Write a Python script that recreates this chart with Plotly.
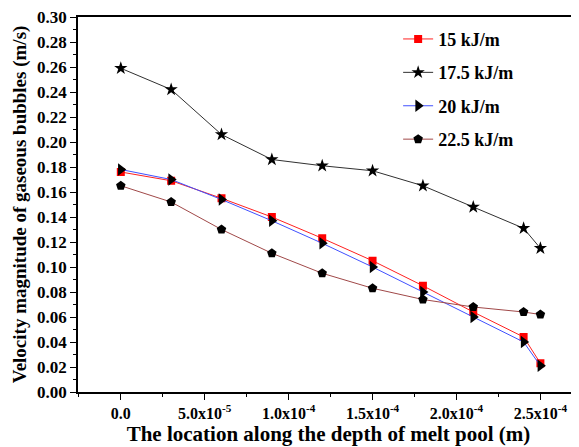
import plotly.graph_objects as go

x_pos = [0, 3e-5, 6e-5, 9e-5, 1.2e-4, 1.5e-4, 1.8e-4, 2.1e-4, 2.4e-4, 2.5e-4]
v_15 = [0.176, 0.169, 0.155, 0.140, 0.123, 0.105, 0.085, 0.064, 0.044, 0.023]
v_175 = [0.259, 0.242, 0.206, 0.186, 0.181, 0.177, 0.165, 0.148, 0.131, 0.115]
v_20 = [0.178, 0.170, 0.154, 0.137, 0.119, 0.100, 0.080, 0.060, 0.040, 0.021]
v_225 = [0.165, 0.152, 0.130, 0.111, 0.095, 0.083, 0.074, 0.068, 0.064, 0.062]

series_names = ["15 kJ/m", "17.5 kJ/m", "20 kJ/m", "22.5 kJ/m"]
x_tickvals = [0, 5e-5, 1e-4, 1.5e-4, 2e-4, 2.5e-4]
x_ticktext = ["0.0", "5.0x10<sup>-5</sup>", "1.0x10<sup>-4</sup>", "1.5x10<sup>-4</sup>",
              "2.0x10<sup>-4</sup>", "2.5x10<sup>-4</sup>"]

styles = [
    dict(line=dict(color="#ff2020", width=1), marker=dict(symbol="square", size=8, color="#ff0000")),
    dict(line=dict(color="#303030", width=1), marker=dict(symbol="star", size=10, color="black")),
    dict(line=dict(color="#4050ff", width=1), marker=dict(symbol="triangle-right", size=11, color="black")),
    dict(line=dict(color="#a04848", width=1), marker=dict(symbol="pentagon", size=10, color="black")),
]

fig = go.Figure()
for i, (name, vals) in enumerate(zip(series_names, [v_15, v_175, v_20, v_225])):
    fig.add_trace(go.Scatter(x=x_pos, y=vals, mode="lines+markers", name=name,
                             legendgroup=f"g{i}", **styles[i]))

font_family = "Times New Roman, Liberation Serif, serif"
# page body has an 8px margin, so margins are reduced accordingly
fig.update_layout(
    width=579, height=447,
    margin=dict(l=70, r=8, t=9, b=63),
    plot_bgcolor="white", paper_bgcolor="white",
    font=dict(family=font_family, color="black"),
    showlegend=True,
    legend=dict(x=0.639, y=0.99, xanchor="left", yanchor="top",
                font=dict(family=font_family, size=18, color="black", weight="bold"),
                tracegroupgap=7, bgcolor="rgba(0,0,0,0)"),
    xaxis=dict(range=[-2.55e-5, 2.73e-4], tickvals=x_tickvals, ticktext=x_ticktext,
               automargin=False, ticklabeloverflow="allow",
               ticks="outside", ticklen=6, tickwidth=1, tickcolor="black",
               showline=True, linecolor="black", linewidth=1.5, mirror=True,
               showgrid=False, zeroline=False,
               minor=dict(tickvals=[-2.5e-5, 2.5e-5, 7.5e-5, 1.25e-4, 1.75e-4, 2.25e-4],
                          ticks="outside", ticklen=3, tickcolor="black"),
               tickfont=dict(family=font_family, size=16, weight="bold"),
               title=dict(text="The location along the depth of melt pool (m)",
                          font=dict(family=font_family, size=21, weight="bold"), standoff=3)),
    yaxis=dict(range=[0, 0.30], dtick=0.02, tickformat=".2f",
               automargin=False, ticklabeloverflow="allow",
               ticks="outside", ticklen=6, tickwidth=1, tickcolor="black",
               showline=True, linecolor="black", linewidth=1.5,
               showgrid=False, zeroline=False,
               minor=dict(dtick=0.01, ticks="outside", ticklen=3, tickcolor="black"),
               tickfont=dict(family=font_family, size=17, weight="bold"),
               title=dict(text="Velocity magnitude of gaseous bubbles (m/s)",
                          font=dict(family=font_family, size=19, weight="bold"), standoff=5)),
)

fig.write_html("out.html")
